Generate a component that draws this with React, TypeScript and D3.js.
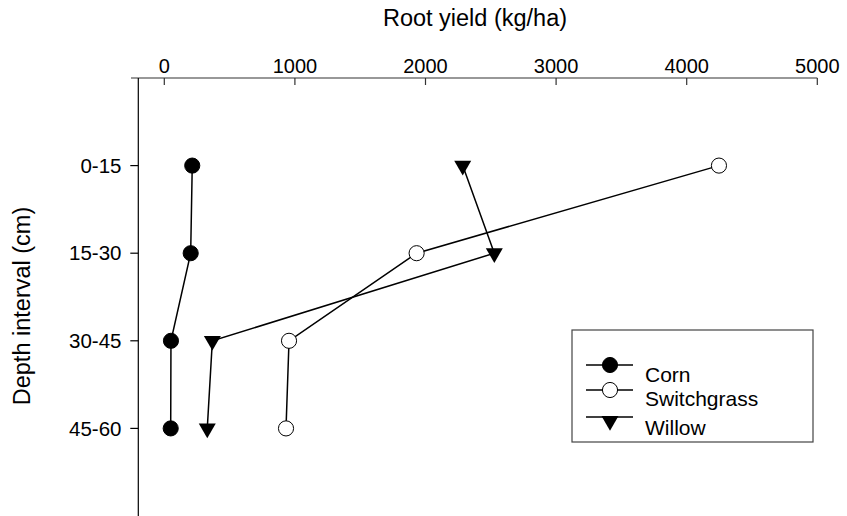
import * as d3 from "d3";

const depths = ["0-15", "15-30", "30-45", "45-60"];
const corn = [214, 202, 51, 49];
const switchgrass = [4247, 1932, 955, 932];
const willow = [2285, 2527, 368, 329];
const xTicks = [0, 1000, 2000, 3000, 4000, 5000];

const WIDTH = 847;
const HEIGHT = 516;
const FONT = "Liberation Sans, Arial, sans-serif";

const series = [
	{ name: "Corn", values: corn, kind: "filled" },
	{ name: "Switchgrass", values: switchgrass, kind: "open" },
	{ name: "Willow", values: willow, kind: "triangle" },
];

const circlePath = d3.symbol(d3.symbolCircle, 180)()!;
const trianglePath = d3.symbol(d3.symbolTriangle, 125)()!;

function Marker({ kind, x, y }: { kind: string; x: number; y: number }) {
	if (kind === "triangle") {
		return <path d={trianglePath} transform={`translate(${x},${y}) rotate(180)`} fill="black" />;
	}
	return (
		<path
			d={circlePath}
			transform={`translate(${x},${y})`}
			fill={kind === "open" ? "white" : "black"}
			stroke="black"
			strokeWidth={1}
		/>
	);
}

export default function App() {
	const x = d3.scaleLinear().domain([0, 5000]).range([164.3, 817.3]);
	// depth rows sit at 1..4 on a 0..5 scale along the left axis
	const y = d3.scaleLinear().domain([0, 5]).range([78, 516]);
	const axisY = 78;
	const axisX = 138.3;

	const line = d3
		.line<number>()
		.x((d) => x(d))
		.y((_, i) => y(i + 1));

	const legendX = 572;
	const legendY = 330;
	const legendRows = [365, 390, 417];
	const legendText = [382, 406, 435];

	return (
		<svg
			width={WIDTH}
			height={HEIGHT}
			style={{ position: "absolute", left: 0, top: 0, background: "white" }}
			fontFamily={FONT}
		>
			{/* top x axis */}
			<line x1={131} x2={x(5000)} y1={axisY} y2={axisY} stroke="#333" strokeWidth={1.2} />
			{xTicks.map((t) => (
				<g key={t}>
					<line x1={x(t)} x2={x(t)} y1={axisY} y2={axisY + 7} stroke="#333" strokeWidth={1.2} />
					<text x={x(t)} y={73} textAnchor="middle" fontSize={20}>
						{t}
					</text>
				</g>
			))}
			<text x={475} y={26} textAnchor="middle" fontSize={23.5}>
				Root yield (kg/ha)
			</text>

			{/* left y axis */}
			<line x1={axisX} x2={axisX} y1={axisY} y2={HEIGHT} stroke="black" strokeWidth={1.2} />
			{depths.map((d, i) => (
				<g key={d}>
					<line x1={axisX - 8} x2={axisX} y1={y(i + 1)} y2={y(i + 1)} stroke="black" strokeWidth={1.2} />
					<text x={121.5} y={y(i + 1)} dy="0.35em" textAnchor="end" fontSize={20.5}>
						{d}
					</text>
				</g>
			))}
			<text
				transform={`translate(30,306) rotate(-90)`}
				textAnchor="middle"
				fontSize={23.5}
			>
				Depth interval (cm)
			</text>

			{/* series */}
			{series.map((s) => (
				<g key={s.name}>
					<path d={line(s.values)!} fill="none" stroke="black" strokeWidth={1.5} />
					{s.values.map((v, i) => (
						<Marker key={i} kind={s.kind} x={x(v)} y={y(i + 1)} />
					))}
				</g>
			))}

			{/* legend */}
			<rect
				x={legendX}
				y={legendY}
				width={813 - legendX}
				height={442 - legendY}
				fill="white"
				stroke="#444"
				strokeWidth={1.2}
			/>
			{series.map((s, i) => (
				<g key={s.name}>
					<line x1={586} x2={633} y1={legendRows[i]} y2={legendRows[i]} stroke="black" strokeWidth={1.5} />
					<Marker kind={s.kind} x={610} y={legendRows[i] + (s.kind === "triangle" ? 4 : 0)} />
					<text x={645} y={legendText[i]} fontSize={21}>
						{s.name}
					</text>
				</g>
			))}
		</svg>
	);
}
